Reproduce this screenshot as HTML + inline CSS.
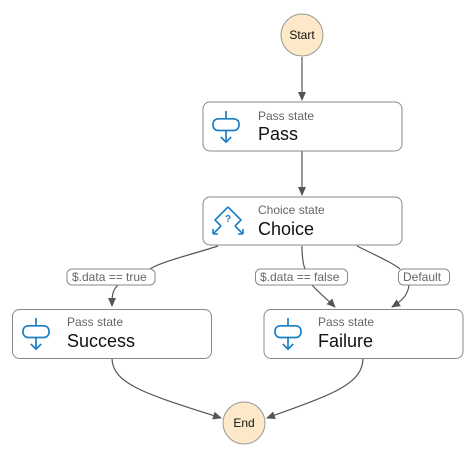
<!DOCTYPE html><html><head><style>
body{margin:0;background:#fff;width:476px;height:461px;overflow:hidden;font-family:"Liberation Sans",Arial,sans-serif}
</style></head><body>
<svg width="476" height="461" xmlns="http://www.w3.org/2000/svg" font-family="Liberation Sans, Arial, sans-serif">
<defs>
<marker id="a" markerWidth="10" markerHeight="10" refX="8" refY="5" orient="auto" markerUnits="userSpaceOnUse"><path d="M0,1 L9,5 L0,9 Z" fill="#555"/></marker>
<g id="pi" fill="none" stroke="#1a7fc4" stroke-width="1.3"><path d="M10,0 V6"/><rect x="0" y="6" width="20" height="9" rx="4"/><path d="M10,15 V24 M6,20 L10,24 L14,20"/></g>
</defs>
<g stroke="#555" stroke-width="1.2" fill="none">
<path d="M302,57 V100" marker-end="url(#a)"/>
<path d="M302,151 V195" marker-end="url(#a)"/>
<path d="M218,246 C190,255 160,262 150,269"/>
<path d="M119,284 C112,290 112,296 112,306" marker-end="url(#a)"/>
<path d="M302,246 C302,258 303,264 305,269"/>
<path d="M312,285 C320,294 328,300 335,307" marker-end="url(#a)"/>
<path d="M357,246 C375,255 393,263 400,269"/>
<path d="M409,285 C408,296 400,302 392,307" marker-end="url(#a)"/>
<path d="M112,358 C112,385 150,395 221,418" marker-end="url(#a)"/>
<path d="M363,358 C363,385 330,395 267,418" marker-end="url(#a)"/>
</g>
<circle cx="302" cy="35" r="21" fill="#fde8c8" stroke="#999"/>
<text x="302" y="39" text-anchor="middle" font-size="12" fill="#111">Start</text>
<circle cx="244" cy="423" r="21" fill="#fde8c8" stroke="#999"/>
<text x="244" y="427" text-anchor="middle" font-size="12" fill="#111">End</text>
<g fill="#fff" stroke="#888">
<rect x="203" y="102" width="199" height="49" rx="7"/>
<rect x="203" y="197" width="199" height="48" rx="7"/>
<rect x="12.5" y="309.5" width="199" height="49" rx="7"/>
<rect x="264" y="309.5" width="199" height="49" rx="7"/>
<rect x="67" y="269" width="88" height="16" rx="5"/>
<rect x="255.5" y="269" width="92" height="16" rx="5"/>
<rect x="398.5" y="269" width="51" height="16" rx="5"/>
</g>
<g font-size="12" fill="#666">
<text x="72" y="281">$.data == true</text>
<text x="260" y="281">$.data == false</text>
<text x="403" y="281">Default</text>
<text x="258" y="120">Pass state</text>
<text x="258" y="214">Choice state</text>
<text x="67" y="326">Pass state</text>
<text x="318" y="326">Pass state</text>
</g>
<g font-size="18" fill="#111">
<text x="258" y="140">Pass</text>
<text x="258" y="235">Choice</text>
<text x="67" y="347">Success</text>
<text x="318" y="347">Failure</text>
</g>
<use href="#pi" transform="translate(213,111) scale(1.3)"/>
<use href="#pi" transform="translate(23,318) scale(1.3)"/>
<use href="#pi" transform="translate(275,318) scale(1.3)"/>
<g fill="none" stroke="#1a7fc4" stroke-width="1.6">
<path d="M228,207 L241,220 L235,226 M228,207 L215,220 L221,226"/>
<path d="M213,234 L221,226 M213,234 V229 M213,234 H218"/>
<path d="M243,234 L235,226 M243,234 V229 M243,234 H238"/>
</g>
<text x="228" y="222" text-anchor="middle" font-size="10" font-weight="bold" fill="#1a7fc4">?</text>
</svg>
</body></html>
